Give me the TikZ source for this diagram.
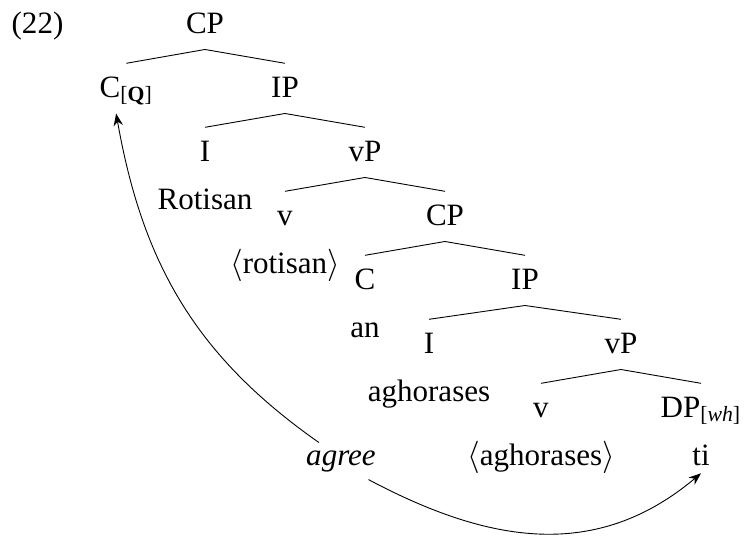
\documentclass[tikz,border=0pt]{standalone}
\usepackage{fontspec}
\setmainfont{LiberationSerif}[
    Extension=.ttf,
    UprightFont=*-Regular,
    BoldFont=*-Bold,
    ItalicFont=*-Italic,
    BoldItalicFont=*-BoldItalic]
\usepackage{tikz}
\usetikzlibrary{arrows.meta}

\begin{document}
\begin{tikzpicture}[
    font=\fontsize{13.8}{16.5}\selectfont,
    cat/.style={anchor=base,inner sep=0pt,text height=0.52cm,text depth=0.25cm},
    word/.style={anchor=base},
    agreearc/.style={-{Stealth[length=5.5pt,width=4.2pt,inset=1.8pt]}}
]
\useasboundingbox (-3.203,0.516) rectangle (8.453,-7.844);

\node[word] (exnum) at (-2.617,0) {(22)};

% categories, one row per level
\node[cat] (cp) at (0,0) {CP};
\node[cat] (cq) at (-1.23,-1) {C\textsubscript{[\textbf{Q}]}};
\node[cat] (ip) at (1.25,-1) {IP};
\node[cat] (i) at (0,-2) {I};
\node[cat] (vp) at (2.5,-2) {vP};
\node[cat] (v) at (1.25,-3) {v};
\node[cat] (cpb) at (3.75,-3) {CP};
\node[cat] (c) at (2.5,-4) {C};
\node[cat] (ipb) at (5,-4) {IP};
\node[cat] (ib) at (3.5,-5) {I};
\node[cat] (vpb) at (6.5,-5) {vP};
\node[cat] (vb) at (5.25,-6) {v};
\node[cat] (dp) at (7.75,-6) {DP\textsubscript{[\textit{wh}]}};

% words under the heads
\node[word] (rotisan) at (0,-2.75) {Rotisan};
\node[word] (rotisant) at (1.25,-3.75) {$\langle$rotisan$\rangle$};
\node[word] (an) at (2.5,-4.75) {an};
\node[word] (aghorases) at (3.5,-5.75) {aghorases};
\node[word] (aghorasest) at (5.25,-6.75) {$\langle$aghorases$\rangle$};
\node[word] (ti) at (7.75,-6.75) {ti};
\node[word] (agree) at (2.125,-6.75) {\textit{agree}};

% branches
\draw (cq.north) -- (cp.south) -- (ip.north);
\draw (i.north) -- (ip.south) -- (vp.north);
\draw (v.north) -- (vp.south) -- (cpb.north);
\draw (c.north) -- (cpb.south) -- (ipb.north);
\draw (ib.north) -- (ipb.south) -- (vpb.north);
\draw (vb.north) -- (vpb.south) -- (dp.north);

% agree arcs
\draw[agreearc] (agree.140) to[out=145,in=-80] (cq.-112);
\draw[agreearc] (agree.-34) to[out=-28,in=-140,looseness=1.05] (ti.south);
\end{tikzpicture}
\end{document}
